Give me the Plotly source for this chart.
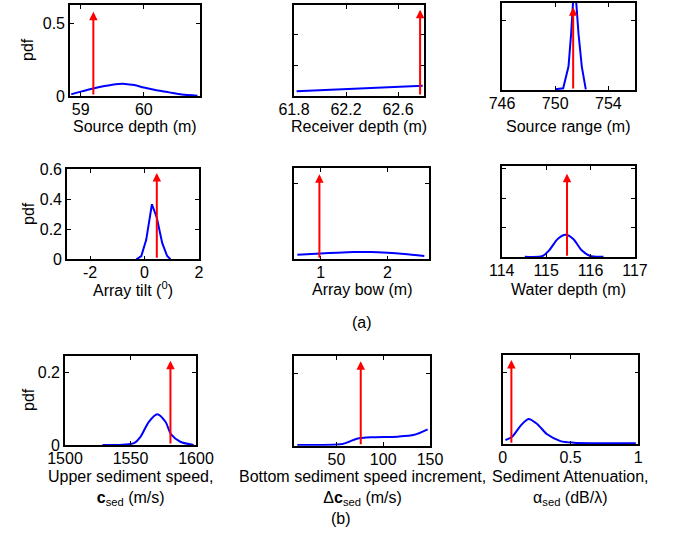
import plotly.graph_objects as go

W, H = 675, 540
FONT = "Arial, Liberation Sans, sans-serif"
BLUE = "rgb(0,0,255)"
RED = "rgb(255,0,0)"

# ---------------- posterior pdf curves ----------------
src_depth_x = [58.85, 59.0, 59.2, 59.4, 59.55, 59.7, 59.85, 60.0, 60.2, 60.4, 60.6, 60.85]
src_depth_y = [0.012, 0.03, 0.052, 0.07, 0.081, 0.083, 0.075, 0.058, 0.04, 0.025, 0.01, 0.002]

rcv_depth_x = [61.82, 62.0, 62.2, 62.4, 62.6, 62.79]
rcv_depth_y = [0.031, 0.037, 0.045, 0.053, 0.061, 0.066]

src_range_x = [750.0, 750.6, 751.0, 751.2, 751.45, 751.75, 752.0, 752.3]
src_range_y = [0.002, 0.005, 0.067, 0.162, 0.32, 0.162, 0.067, 0.002]

tilt_x = [-0.3, -0.12, 0.06, 0.27, 0.45, 0.65, 0.83, 0.95]
tilt_y = [0.0, 0.022, 0.13, 0.367, 0.277, 0.108, 0.022, 0.0]

bow_x = [0.65, 1.0, 1.25, 1.5, 1.75, 2.0, 2.25, 2.55]
bow_y = [0.030, 0.038, 0.044, 0.048, 0.048, 0.043, 0.035, 0.022]

wdepth_x = [114.52, 114.92, 115.07, 115.26, 115.44, 115.61, 115.8, 115.99, 116.29]
wdepth_y = [0.004, 0.009, 0.048, 0.125, 0.153, 0.125, 0.048, 0.009, 0.004]

csed_x = [1528.6, 1552.6, 1557.7, 1564.0, 1570.4, 1576.7, 1581.0, 1588.0, 1598.2]
csed_y = [0.0, 0.005, 0.023, 0.064, 0.085, 0.064, 0.029, 0.009, 0.0]

dcsed_x = [8.2, 56.4, 63.5, 71.8, 86.8, 115.4, 133.2, 147.5]
dcsed_y = [0.002, 0.005, 0.011, 0.019, 0.023, 0.025, 0.03, 0.045]

atten_x = [0.02, 0.069, 0.13, 0.19, 0.254, 0.328, 0.426, 0.524, 0.982]
atten_y = [0.012, 0.021, 0.051, 0.071, 0.057, 0.028, 0.009, 0.0045, 0.003]

# true parameter values (red arrows) and arrow heights
true_vals = [59.2, 62.77, 751.35, 0.45, 0.98, 115.47, 1580.5, 76.0, 0.064]
arrow_tops = [0.58, 0.56, 0.237, 0.576, 0.56, 0.568, 0.232, 0.233, 0.236]

# axis limits and ticks
x_ranges = [[58.83, 60.89], [61.8, 62.8], [746.0, 756.0],
            [-2.85, 2.0], [0.6, 2.62], [114.0, 117.0],
            [1500, 1600], [5, 150], [0, 1]]
x_ticks = [[59, 60], [61.8, 62.2, 62.6], [746, 750, 754],
           [-2, 0, 2], [1, 2], [114, 115, 116, 117],
           [1500, 1550, 1600], [50, 100, 150], [0, 0.5, 1]]
x_ticktext = [["59", "60"], ["61.8", "62.2", "62.6"], ["746", "750", "754"],
              ["-2", "0", "2"], ["1", "2"], ["114", "115", "116", "117"],
              ["1500", "1550", "1600"], ["50", "100", "150"], ["0", "0.5", "1"]]
y_tops = [0.626, 0.59, 0.25, 0.6, 0.6, 0.62, 0.246, 0.248, 0.25]
y_ticks = [[0, 0.5], [0, 0.2, 0.4], [0, 0.2],
           [0, 0.2, 0.4, 0.6], [0, 0.5], [0, 0.2, 0.4, 0.6],
           [0, 0.2], [0, 0.2], [0, 0.2]]
y_ticktext = [["0", "0.5"], None, None,
              ["0", "0.2", "0.4", "0.6"], None, None,
              ["0", "0.2"], None, None]

x_titles = ["Source depth (m)", "Receiver depth (m)", "Source range (m)",
            "Array tilt (<sup>0</sup>)", "Array bow (m)", "Water depth (m)",
            "Upper sediment speed,<br><b>c</b><sub>sed</sub> (m/s)",
            "Bottom sediment speed increment,<br>\u0394<b>c</b><sub>sed</sub> (m/s)",
            "Sediment Attenuation,<br>\u03b1<sub>sed</sub> (dB/\u03bb)"]

curves = [(src_depth_x, src_depth_y, "spline"), (rcv_depth_x, rcv_depth_y, "linear"),
          (src_range_x, src_range_y, "linear"), (tilt_x, tilt_y, "linear"),
          (bow_x, bow_y, "spline"), (wdepth_x, wdepth_y, "spline"),
          (csed_x, csed_y, "spline"), (dcsed_x, dcsed_y, "spline"),
          (atten_x, atten_y, "spline")]

# panel boxes in pixels: (left, right, top, bottom)
boxes = [(70, 200, 5, 96), (294, 424, 5, 96), (502, 635, 2.7, 90),
         (67, 199, 169.3, 259.3), (294, 429, 168.3, 259.3), (501.7, 635, 166, 257.3),
         (65, 196, 355.7, 445), (294.3, 430, 355.7, 445.7), (502.7, 638.3, 355, 444.3)]
title_y = [127, 127, 127, 289, 289, 289, 488, 488, 488]

fig = go.Figure()
annotations = []
layout = dict(
    template="none",
    width=W, height=H, margin=dict(l=0, r=0, t=0, b=0, pad=0, autoexpand=False),
    paper_bgcolor="white", plot_bgcolor="white",
    showlegend=False, font=dict(family=FONT, size=16, color="black"),
)

for i in range(9):
    n = "" if i == 0 else str(i + 1)
    xa, ya = "x" + n, "y" + n
    l, r, t, b = boxes[i]
    cx, cy, shape = curves[i]
    fig.add_trace(go.Scatter(
        x=cx, y=cy, mode="lines", xaxis=xa, yaxis=ya,
        line=dict(color=BLUE, width=2, shape=shape, smoothing=0.8),
        hoverinfo="skip"))
    axis_common = dict(showline=True, linecolor="black", linewidth=1.6,
                       mirror="allticks", ticks="inside", ticklen=4,
                       tickcolor="black", tickwidth=1, showgrid=False,
                       zeroline=False, automargin=False,
                       tickfont=dict(family=FONT, size=16, color="black"))
    layout["xaxis" + n] = dict(
        axis_common, domain=[l / W, r / W], range=x_ranges[i], anchor=ya,
        tickmode="array", tickvals=x_ticks[i], ticktext=x_ticktext[i],
        ticklabelstandoff=-2)
    ydict = dict(axis_common, domain=[1 - b / H, 1 - t / H],
                 range=[0, y_tops[i]], anchor=xa, tickmode="array",
                 tickvals=y_ticks[i])
    if y_ticktext[i] is None:
        ydict["showticklabels"] = False
    else:
        ydict["ticktext"] = y_ticktext[i]
    layout["yaxis" + n] = ydict

    # true value arrow
    annotations.append(dict(
        xref=xa, yref=ya, axref=xa, ayref=ya,
        x=true_vals[i], y=arrow_tops[i], ax=true_vals[i], ay=0,
        text="", showarrow=True, arrowhead=2, arrowsize=0.85,
        arrowwidth=2, arrowcolor=RED))

    # axis label
    annotations.append(dict(
        xref="paper", yref="paper", x=(l + r) / 2 / W, y=1 - title_y[i] / H,
        xanchor="center", yanchor="middle", showarrow=False,
        text=x_titles[i], font=dict(family=FONT, size=16)))

# y labels
for yc in [50, 214, 400]:
    annotations.append(dict(
        xref="paper", yref="paper", x=28 / W, y=1 - yc / H,
        xanchor="center", yanchor="middle", showarrow=False, textangle=-90,
        text="pdf", font=dict(family=FONT, size=16)))

# panel group labels
annotations.append(dict(xref="paper", yref="paper", x=362 / W, y=1 - 322 / H,
                        xanchor="center", yanchor="middle",
                        showarrow=False, text="(a)", font=dict(family=FONT, size=16)))
annotations.append(dict(xref="paper", yref="paper", x=341 / W, y=1 - 518 / H,
                        xanchor="center", yanchor="middle",
                        showarrow=False, text="(b)", font=dict(family=FONT, size=16)))

layout["annotations"] = annotations
fig.update_layout(**layout)
fig.write_html("out.html")
